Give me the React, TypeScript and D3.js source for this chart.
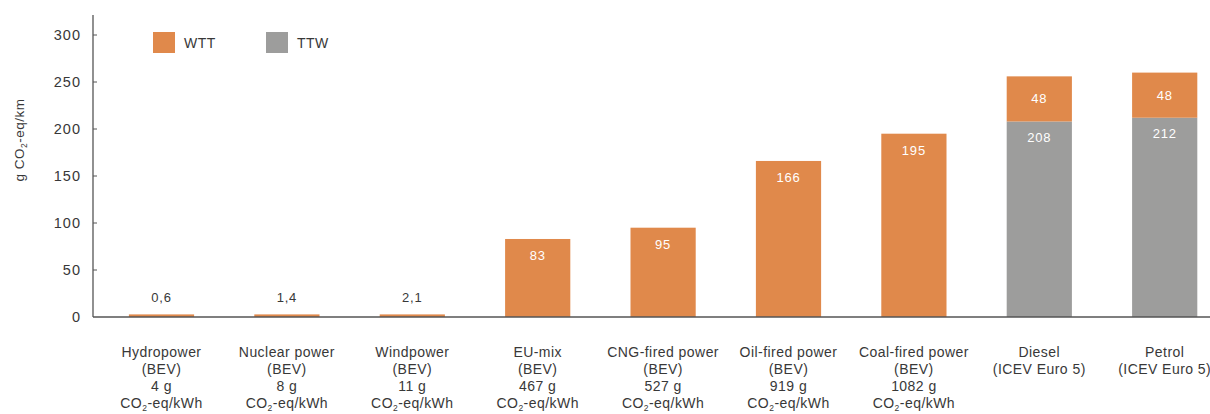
import React from "react";
import * as d3 from "d3";

const categories = [
  "Hydropower", "Nuclear power", "Windpower", "EU-mix", "CNG-fired power",
  "Oil-fired power", "Coal-fired power", "Diesel", "Petrol",
];
const subLabels = [
  "(BEV)", "(BEV)", "(BEV)", "(BEV)", "(BEV)", "(BEV)", "(BEV)",
  "(ICEV Euro 5)", "(ICEV Euro 5)",
];
const gridIntensity = ["4 g", "8 g", "11 g", "467 g", "527 g", "919 g", "1082 g", "", ""];
const wttValues = [0.6, 1.4, 2.1, 83, 95, 166, 195, 48, 48];
const ttwValues = [0, 0, 0, 0, 0, 0, 0, 208, 212];
const wttLabels = ["0,6", "1,4", "2,1", "83", "95", "166", "195", "48", "48"];
const ttwLabels = ["", "", "", "", "", "", "", "208", "212"];
const yTicks = [0, 50, 100, 150, 200, 250, 300];
const legendItems = ["WTT", "TTW"];

const ORANGE = "#E0894B";
const GRAY = "#9D9D9C";
const AXIS = "#555";
const TEXT = "#383838";
const FONT = "'Liberation Sans', Arial, Helvetica, sans-serif";

export default function App() {
  const W = 1210, H = 414;
  const x0 = 93, yBase = 317;
  const y = d3.scaleLinear().domain([0, 300]).range([yBase, 35]);
  const x = d3
    .scaleBand<string>()
    .domain(categories)
    .range([98.8, 1227.4])
    .paddingInner(0.48)
    .paddingOuter(0.24);
  const bw = x.bandwidth();
  const minH = 2.6;

  return (
    <svg width={W} height={H} style={{ position: "absolute", left: 0, top: 0 }} fontFamily={FONT}>
      {/* bars */}
      {categories.map((c, i) => {
        const bx = x(c)!;
        const ttwTop = y(ttwValues[i]);
        const wttBottom = ttwTop;
        const wttTop = Math.min(y(ttwValues[i] + wttValues[i]), wttBottom - minH);
        return (
          <g key={c}>
            {ttwValues[i] > 0 && (
              <rect x={bx} y={ttwTop} width={bw} height={yBase - ttwTop} fill={GRAY} />
            )}
            <rect x={bx} y={wttTop} width={bw} height={wttBottom - wttTop} fill={ORANGE} />
          </g>
        );
      })}
      {/* value labels */}
      {categories.map((c, i) => {
        const cx = x(c)! + bw / 2;
        const ttwTop = y(ttwValues[i]);
        const wttTop = y(ttwValues[i] + wttValues[i]);
        const small = wttValues[i] < 10;
        const stacked = ttwValues[i] > 0;
        const wttY = small ? 297 : stacked ? (wttTop + ttwTop) / 2 : wttTop + 17;
        return (
          <g key={c} fontSize={13} letterSpacing={0.8} textAnchor="middle" dominantBaseline="central">
            <text x={cx} y={wttY} fill={small ? TEXT : "#fff"}>{wttLabels[i]}</text>
            {stacked && (
              <text x={cx} y={ttwTop + 16} fill="#fff">{ttwLabels[i]}</text>
            )}
          </g>
        );
      })}
      {/* axes */}
      <line x1={x0} x2={x0} y1={15} y2={yBase} stroke={AXIS} strokeWidth={1.3} />
      <line x1={x0} x2={W} y1={yBase} y2={yBase} stroke={AXIS} strokeWidth={1.3} />
      {yTicks.map((t) => (
        <g key={t}>
          {t > 0 && <line x1={x0} x2={x0 + 4} y1={y(t)} y2={y(t)} stroke={AXIS} strokeWidth={1} />}
          <text x={81} y={y(t)} textAnchor="end" dominantBaseline="central" fontSize={14.5} letterSpacing={1} fill={TEXT}>
            {t}
          </text>
        </g>
      ))}
      {/* y title */}
      <text
        transform={`translate(24,140) rotate(-90)`}
        textAnchor="middle"
        fontSize={13.5}
        letterSpacing={0.5}
        fill={TEXT}
      >
        g CO<tspan fontSize={8.5} dy={3}>2</tspan><tspan dy={-3}>-eq/km</tspan>
      </text>
      {/* legend */}
      {legendItems.map((l, i) => (
        <g key={l} transform={`translate(${153 + i * 113},32)`}>
          <rect width={22} height={21} fill={i === 0 ? ORANGE : GRAY} />
          <text x={31} y={11} dominantBaseline="central" fontSize={14} letterSpacing={0.5} fill={TEXT}>{l}</text>
        </g>
      ))}
      {/* x labels */}
      {categories.map((c, i) => {
        const cx = x(c)! + bw / 2;
        return (
          <g key={c} fontSize={14} letterSpacing={0.45} textAnchor="middle" fill={TEXT}>
            <text x={cx} y={357}>{c}</text>
            <text x={cx} y={374}>{subLabels[i]}</text>
            {gridIntensity[i] && <text x={cx} y={391}>{gridIntensity[i]}</text>}
            {gridIntensity[i] && (
              <text x={cx} y={408}>
                CO<tspan fontSize={8.5} dy={3}>2</tspan><tspan dy={-3}>-eq/kWh</tspan>
              </text>
            )}
          </g>
        );
      })}
    </svg>
  );
}
